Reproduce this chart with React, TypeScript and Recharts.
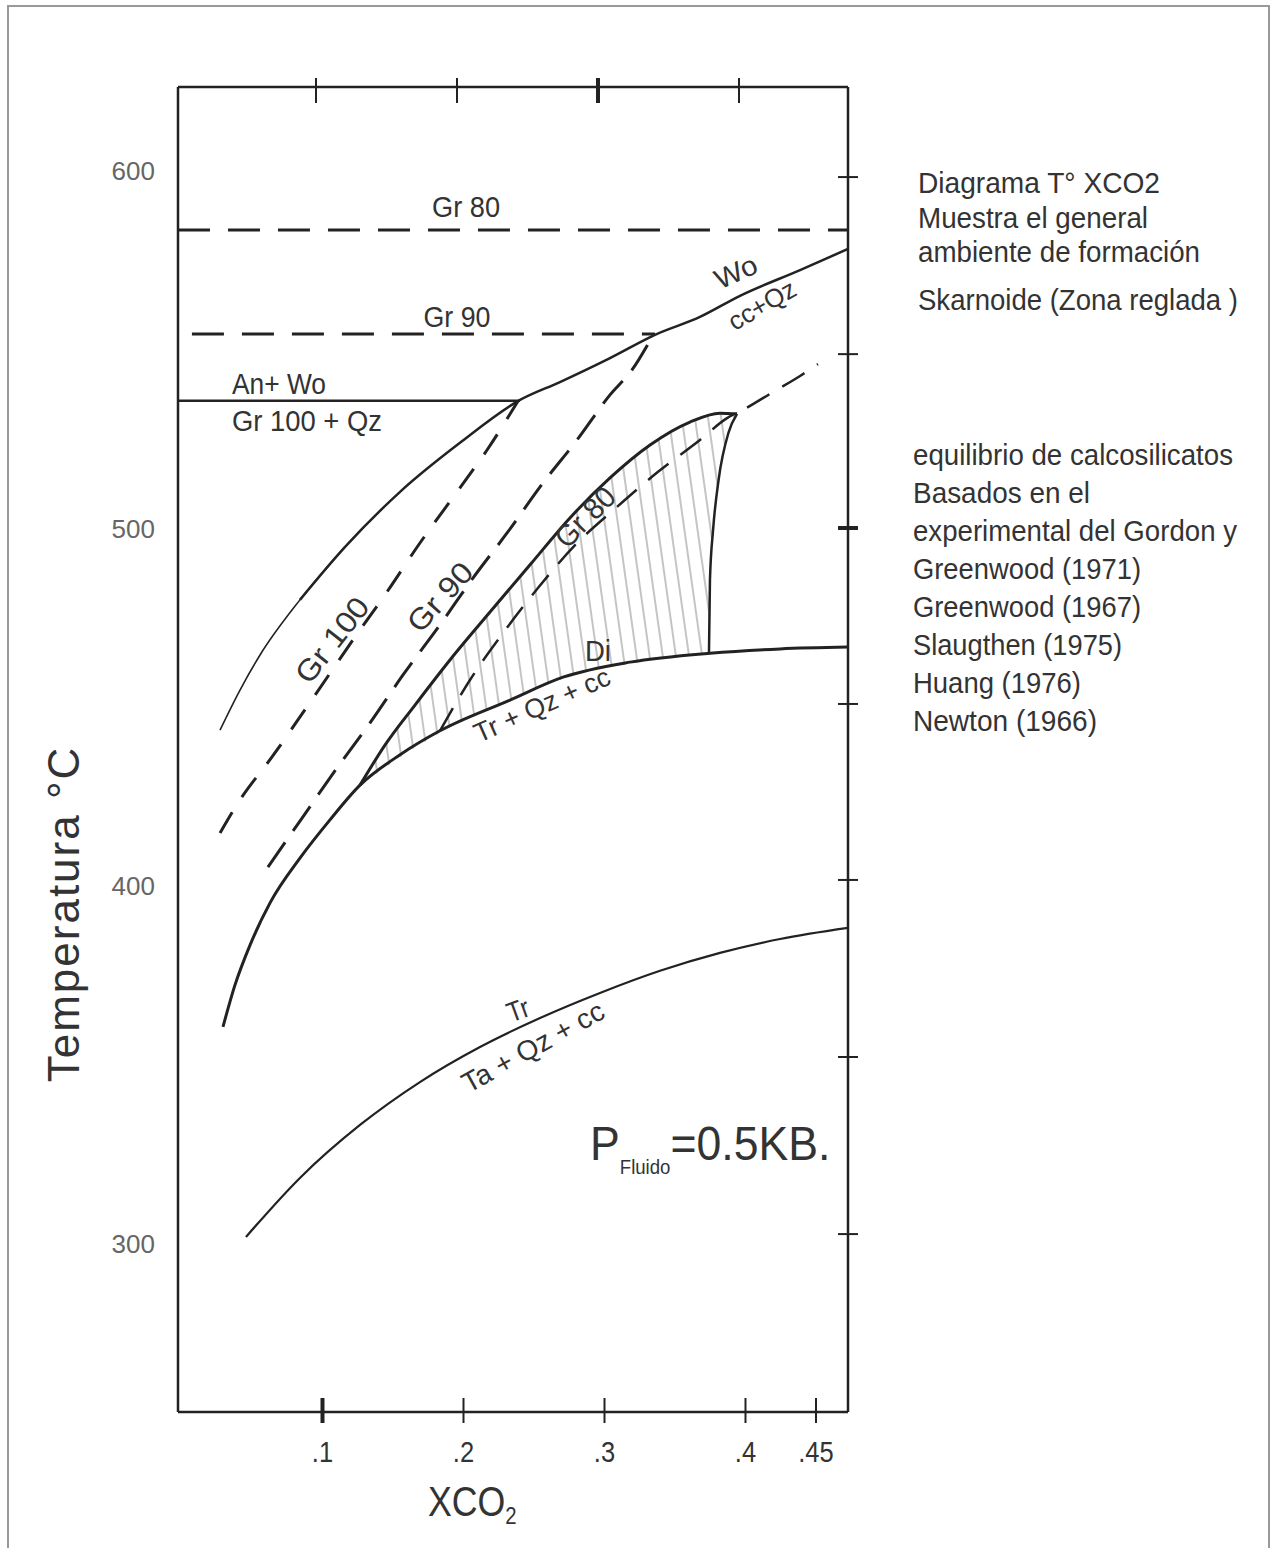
import React from 'react';
import { ComposedChart, Line, Area, XAxis, YAxis } from 'recharts';

// axis ticks
const bottomTicks = [0.1, 0.2, 0.3, 0.4, 0.45];
const bottomTickLabels = ['.1', '.2', '.3', '.4', '.45'];
const topTicks = [0.0954, 0.1954, 0.2954, 0.3954];
const leftTicks = [600, 500, 400, 300];
const rightTicks = [598.3, 548.8, 500.2, 451.0, 401.8, 352.3, 302.8];

// curves: [XCO2, T °C]
const woLow = [[0.0273, 443.7], [0.0415, 454.9], [0.0557, 464.7], [0.084, 480.1], [0.116, 494.9]];
const woHigh = [
  [0.084, 480.1], [0.116, 494.9], [0.155, 510.3], [0.1975, 524.0], [0.2401, 536.0], [0.2684, 541.0],
  [0.3039, 547.7], [0.3358, 554.2], [0.3677, 559.2], [0.3961, 565.1], [0.4387, 572.3], [0.4727, 578.2],
];
const gr100Dash = [
  [0.0273, 414.9], [0.0415, 424.2], [0.0642, 436.2], [0.089, 450.2], [0.1216, 468.9],
  [0.1457, 482.3], [0.1691, 496.0], [0.1954, 510.3], [0.2167, 522.0], [0.2387, 535.7],
];
const gr90Dash = [
  [0.0613, 405.4], [0.0855, 419.1], [0.1103, 433.1], [0.1337, 445.7], [0.1571, 459.1],
  [0.1833, 473.1], [0.2067, 486.2], [0.2309, 498.8], [0.2564, 512.8], [0.2805, 524.8],
  [0.3039, 537.4], [0.3195, 544.4], [0.3337, 553.6],
];
const diCurve = [
  [0.0294, 360.7], [0.0379, 372.4], [0.0486, 383.6], [0.0628, 395.4], [0.084, 407.9],
  [0.1053, 418.6], [0.1266, 428.3], [0.155, 436.8], [0.1833, 443.5], [0.233, 452.1],
  [0.2706, 458.5], [0.3181, 462.7], [0.3748, 465.2], [0.4245, 466.4], [0.4727, 466.9],
];
const gr80Edge = [
  [0.1266, 428.3], [0.1443, 439.5], [0.1656, 450.7], [0.1904, 463.3], [0.2188, 476.7],
  [0.2472, 489.9], [0.2755, 503.0], [0.3039, 514.2], [0.3323, 523.4], [0.3606, 529.8],
  [0.3819, 532.3], [0.394, 532.1],
];
const diLimit = [[0.3741, 465.2], [0.3748, 485.7], [0.377, 499.6], [0.3809, 513.6], [0.3879, 526.8], [0.394, 532.1]];
const gr80Dash = [
  [0.1833, 443.5], [0.2046, 457.7], [0.228, 470.8], [0.2528, 483.4], [0.2791, 495.4],
  [0.3089, 506.1], [0.338, 515.9], [0.3677, 524.8], [0.3869, 530.9], [0.3982, 533.2],
  [0.4195, 538.2], [0.4387, 542.7], [0.4514, 546.0],
];
const trCurve = [
  [0.0457, 302.0], [0.084, 318.5], [0.1266, 333.3], [0.1691, 345.3], [0.2117, 355.1], [0.2543, 363.2],
  [0.2968, 370.2], [0.3394, 376.4], [0.3819, 381.4], [0.4245, 385.3], [0.4727, 388.4],
];
const gr80Flat = [[-0.0025, 583.5], [0.4727, 583.5]];
const gr90Flat = [[0.0074, 554.4], [0.3358, 554.4]];
const anWoFlat = [[-0.0025, 535.8], [0.2401, 535.8]];

// hatched Di field: [XCO2, lower T, upper T]
const hatchBand = [
  [0.1266, 428.3, 428.3], [0.1443, 433.2, 439.5], [0.1656, 438.8, 450.7], [0.1904, 444.5, 463.3],
  [0.2188, 449.6, 476.7], [0.2472, 454.5, 489.9], [0.2755, 458.9, 503.0], [0.3039, 461.4, 514.2],
  [0.3323, 463.3, 523.4], [0.3606, 464.6, 529.8], [0.3741, 465.2, 531.4], [0.3748, 485.7, 531.5],
  [0.377, 499.6, 531.7], [0.3809, 513.6, 532.2], [0.3879, 526.8, 532.3], [0.394, 532.1, 532.1],
];

const infoTop = ['Diagrama T° XCO2', 'Muestra el general', 'ambiente de formación', 'Skarnoide (Zona reglada )'];
const infoTopWidths = [242, 230, 282, 320];
const infoRefs = [
  'equilibrio de calcosilicatos', 'Basados en el', 'experimental del Gordon y', 'Greenwood (1971)',
  'Greenwood (1967)', 'Slaugthen (1975)', 'Huang (1976)', 'Newton (1966)',
];
const infoRefWidths = [320, 177, 324, 228, 228, 209, 168, 184];

const toPts = (arr: number[][]) => arr.map(([x, t]) => ({ x, t }));
const band = hatchBand.map(([x, lo, hi]) => ({ x, band: [lo, hi] }));

const SANS = "'Liberation Sans', Arial, sans-serif";
const INK = '#222';
const TXT = '#333';

// text helper: len squeezes the string to the width seen in the picture, sx condenses it
const T = ({ x, y, r = 0, size = 30, len, sx = 1, anchor = 'middle', children }: any) => (
  <text
    transform={`translate(${x} ${y}) rotate(${r}) scale(${sx} 1)`}
    textAnchor={anchor}
    dominantBaseline="central"
    fontFamily={SANS}
    fontSize={size}
    fill={TXT}
    textLength={len}
    lengthAdjust={len ? 'spacingAndGlyphs' : undefined}
  >
    {children}
  </text>
);

const BottomTick = (props: any) => {
  const { x, y, payload, index } = props;
  const thick = payload.value === 0.1;
  return (
    <g>
      <line x1={x} x2={x} y1={y - 14} y2={y + 11} stroke={INK} strokeWidth={thick ? 4 : 2} />
      <T x={x} y={y + 40} size={30} sx={0.85}>{bottomTickLabels[index]}</T>
    </g>
  );
};

const TopTick = (props: any) => {
  const { x, y, index } = props;
  return <line x1={x} x2={x} y1={y - 9} y2={y + 16} stroke={INK} strokeWidth={index === 2 ? 4 : 2} />;
};

const RightTick = (props: any) => {
  const { x, y, index } = props;
  return <line x1={x - 10} x2={x + 10} y1={y} y2={y} stroke={INK} strokeWidth={index === 2 ? 4 : 2} />;
};

const LeftTick = (props: any) => {
  const { x, y, payload } = props;
  return (
    <text x={x} y={y} textAnchor="end" dominantBaseline="central" fontFamily={SANS} fontSize={26} fill="#666">
      {payload.value}
    </text>
  );
};

const curve = (data: number[][], width: number, dash?: string, type: any = 'monotone') => (
  <Line
    data={toPts(data)}
    dataKey="t"
    type={type}
    stroke={INK}
    strokeWidth={width}
    strokeDasharray={dash}
    dot={false}
    activeDot={false}
    isAnimationActive={false}
  />
);

export default function App() {
  return (
    <div style={{ position: 'absolute', left: 0, top: 0, width: 1271, height: 1548, overflow: 'hidden', background: '#fff' }}>
      <div style={{ position: 'absolute', left: 7, top: 5, width: 1259, height: 1600, borderTop: '2px solid #999', borderLeft: '2px solid #999', borderRight: '2px solid #999' }} />
      <div style={{ position: 'absolute', left: 0, top: 0 }}>
        <ComposedChart width={1271} height={1548} margin={{ top: 86, right: 422, bottom: 135, left: 177 }}>
          <defs>
            <pattern id="hatch" width="13" height="13" patternUnits="userSpaceOnUse" patternTransform="rotate(-8)">
              <line x1="6" y1="0" x2="6" y2="13" stroke="#8a8a8a" strokeWidth="1" />
            </pattern>
          </defs>
          <XAxis
            dataKey="x"
            type="number"
            domain={[-0.00248, 0.4727]}
            allowDataOverflow
            ticks={bottomTicks}
            interval={0}
            height={1}
            tickSize={0}
            tickMargin={0}
            tick={<BottomTick />}
            axisLine={{ stroke: INK, strokeWidth: 2.5 }}
          />
          <XAxis
            xAxisId="top"
            orientation="top"
            dataKey="x"
            type="number"
            domain={[-0.00248, 0.4727]}
            allowDataOverflow
            ticks={topTicks}
            interval={0}
            height={1}
            tickSize={0}
            tickMargin={0}
            tick={<TopTick />}
            axisLine={{ stroke: INK, strokeWidth: 2.5 }}
          />
          <YAxis
            type="number"
            domain={[253.06, 623.48]}
            allowDataOverflow
            ticks={leftTicks}
            interval={0}
            width={1}
            tickSize={0}
            tickMargin={23}
            tick={<LeftTick />}
            axisLine={{ stroke: INK, strokeWidth: 2.5 }}
          />
          <YAxis
            yAxisId="right"
            orientation="right"
            type="number"
            domain={[253.06, 623.48]}
            allowDataOverflow
            ticks={rightTicks}
            interval={0}
            width={1}
            tickSize={0}
            tickMargin={0}
            tick={<RightTick />}
            axisLine={{ stroke: INK, strokeWidth: 2.5 }}
          />
          <Area
            data={band}
            dataKey="band"
            type="linear"
            stroke="none"
            fill="url(#hatch)"
            fillOpacity={1}
            dot={false}
            activeDot={false}
            isAnimationActive={false}
          />
          {curve(gr80Flat, 3, '32 18', 'linear')}
          {curve(gr90Flat, 3, '32 18', 'linear')}
          {curve(anWoFlat, 2.5, undefined, 'linear')}
          {curve(woLow, 1.6)}
          {curve(woHigh, 2.5)}
          {curve(gr100Dash, 3, '24 18')}
          {curve(gr90Dash, 3, '30 14')}
          {curve(diCurve, 3)}
          {curve(gr80Edge, 3)}
          {curve(diLimit, 2.5)}
          {curve(gr80Dash, 2.5, '26 15')}
          {curve(trCurve, 2.2)}
        </ComposedChart>
      </div>
      <svg width={1271} height={1548} style={{ position: 'absolute', left: 0, top: 0, pointerEvents: 'none' }}>
        <T x={466} y={206} len={68}>Gr 80</T>
        <T x={457} y={316} len={67}>Gr 90</T>
        <T x={279} y={383} len={94}>An+ Wo</T>
        <T x={307} y={420} len={150}>Gr 100 + Qz</T>
        <T x={736} y={272} r={-24} size={28} len={44}>Wo</T>
        <T x={762} y={305} r={-30} size={26} len={74}>cc+Qz</T>
        <T x={332} y={640} r={-52} len={100}>Gr 100</T>
        <T x={440} y={597} r={-48} len={82}>Gr 90</T>
        <T x={585} y={517} r={-45} len={72}>Gr 80</T>
        <T x={598} y={650} len={26}>Di</T>
        <T x={542} y={705} r={-24} size={27} len={146}>Tr + Qz + cc</T>
        <T x={518} y={1010} r={-20} size={28} len={22}>Tr</T>
        <T x={533} y={1047} r={-29} size={28} len={158}>Ta + Qz + cc</T>
        <text transform="translate(590 1160) scale(0.93 1)" fontFamily={SANS} fontSize={48} fill={TXT}>
          P<tspan fontSize={20} dy={14}>Fluido</tspan><tspan dy={-14}>=0.5KB.</tspan>
        </text>
        {infoTop.map((s, i) => (
          <T key={s} x={918} y={[183, 218, 252, 300][i]} anchor="start" size={29} len={infoTopWidths[i]}>
            {s}
          </T>
        ))}
        {infoRefs.map((s, i) => (
          <T key={s} x={913} y={455 + i * 38} anchor="start" size={29} len={infoRefWidths[i]}>
            {s}
          </T>
        ))}
        <text x={63} y={914} transform="rotate(-90 63 914)" textAnchor="middle" dominantBaseline="central" fontFamily={SANS} fontSize={44} letterSpacing={2} fill={TXT}>
          Temperatura °C
        </text>
        <text transform="translate(428 1516) scale(0.85 1)" fontFamily={SANS} fontSize={42} fill={TXT}>
          XCO<tspan fontSize={24} dy={8}>2</tspan>
        </text>
      </svg>
    </div>
  );
}
